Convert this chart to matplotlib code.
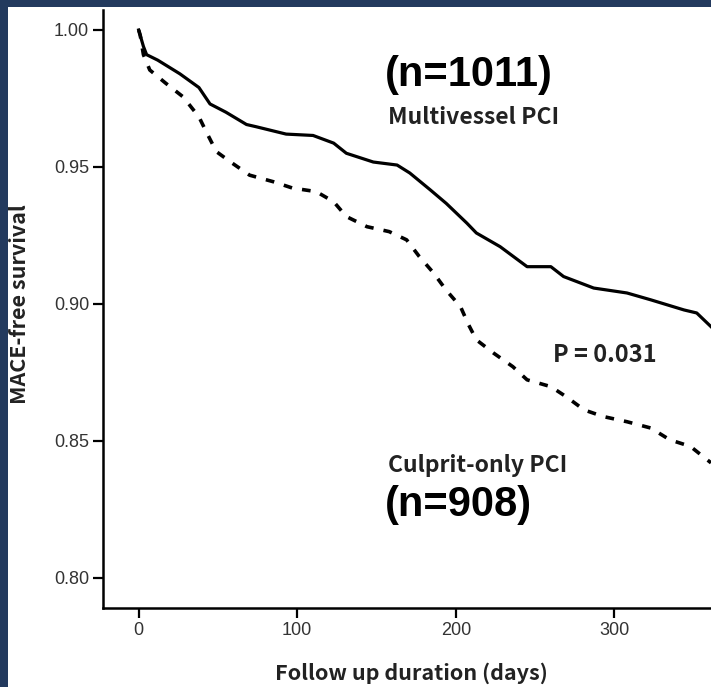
import matplotlib
matplotlib.use("Agg")
import matplotlib.pyplot as plt
from matplotlib.patches import Rectangle

# Kaplan-Meier style curves (days, survival)
multi_days = [0, 1, 3, 5, 12, 26, 38, 45, 55, 68, 74, 93, 110, 123, 131, 148, 163,
              171, 184, 194, 207, 213, 228, 245, 260, 268, 287, 308, 323, 344, 352, 361]
multi_surv = [1.000, 0.998, 0.994, 0.991, 0.989, 0.984, 0.979, 0.973, 0.970, 0.9655, 0.9647,
              0.962, 0.9615, 0.9587, 0.955, 0.9518, 0.9507, 0.9478, 0.9416, 0.9367,
              0.9295, 0.9259, 0.9209, 0.9136, 0.9136, 0.910, 0.9058, 0.904, 0.9015,
              0.8978, 0.8967, 0.8917]

culprit_days = [0, 1, 3, 7, 17, 28, 38, 43, 49, 59, 70, 85, 97, 112, 123, 131, 144, 158,
                169, 177, 186, 194, 203, 208, 213, 224, 236, 245, 260, 270, 281, 293,
                308, 323, 335, 348, 356, 361]
culprit_surv = [1.000, 0.998, 0.991, 0.9854, 0.9806, 0.9756, 0.9683, 0.9624, 0.9556,
                0.9514, 0.947, 0.9446, 0.9423, 0.941, 0.9373, 0.9319, 0.9282, 0.9264,
                0.9234, 0.9173, 0.9113, 0.905, 0.899, 0.8925, 0.8869, 0.882, 0.8771,
                0.8723, 0.8698, 0.866, 0.8613, 0.8589, 0.857, 0.8547, 0.8504, 0.848,
                0.8443, 0.842]

x_ticks = [0, 100, 200, 300]
y_ticks = [0.80, 0.85, 0.90, 0.95, 1.00]

fig = plt.figure(figsize=(7.11, 6.87), dpi=100)
fig.patch.set_facecolor('#233a5e')
# white panel inside the dark blue frame
fig.patches.append(Rectangle((8 / 711, 0), 1, 1 - 7 / 687, transform=fig.transFigure,
                             facecolor='white', edgecolor='none', zorder=-10))

ax = fig.add_axes([103 / 711, 1 - 608 / 687, 1 - 103 / 711, 598 / 687])
ax.set_facecolor('white')

ax.plot(multi_days, multi_surv, color='black', lw=2.3, solid_joinstyle='round')
ax.plot(culprit_days, culprit_surv, color='black', lw=2.6, linestyle=(0, (2.4, 2.8)),
        dash_capstyle='butt')

ax.set_xlim(-22.5, 361)
ax.set_ylim(0.789, 1.0073)
ax.set_xticks(x_ticks)
ax.set_yticks(y_ticks)
ax.set_xticklabels([str(t) for t in x_ticks])
ax.set_yticklabels(['%.2f' % t for t in y_ticks])
ax.tick_params(length=7, width=1.6, labelsize=13, labelcolor='#333333',
               pad=3)
for lab in ax.get_xticklabels() + ax.get_yticklabels():
    lab.set_family('Liberation Sans')

ax.spines['top'].set_visible(False)
ax.spines['right'].set_visible(False)
ax.spines['left'].set_linewidth(1.8)
ax.spines['bottom'].set_linewidth(1.8)

lab_font = 'Noto Sans CJK KR'
fig.text(411 / 711, 1 - 673 / 687, 'Follow up duration (days)', ha='center', va='center',
         fontsize=15.5, fontweight='bold', family=lab_font, color='#222222')
fig.text(20 / 711, 1 - 304 / 687, 'MACE-free survival', ha='center', va='center',
         rotation=90, fontsize=15.5, fontweight='bold', family=lab_font, color='#222222')

ax.text(155.4, 0.9836, '(n=1011)', ha='left', va='center', fontsize=30,
        fontweight='bold', family='Liberation Sans')
ax.text(157.3, 0.9679, 'Multivessel PCI', ha='left', va='center', fontsize=16.5,
        fontweight='bold', family=lab_font, color='#222222')
ax.text(261.5, 0.8814, 'P = 0.031', ha='left', va='center', fontsize=17,
        fontweight='bold', family=lab_font, color='#222222')
ax.text(157.3, 0.8412, 'Culprit-only PCI', ha='left', va='center', fontsize=16.5,
        fontweight='bold', family=lab_font, color='#222222')
ax.text(155.4, 0.8266, '(n=908)', ha='left', va='center', fontsize=30,
        fontweight='bold', family='Liberation Sans')

fig.savefig('out.png', dpi=100, facecolor=fig.get_facecolor())
